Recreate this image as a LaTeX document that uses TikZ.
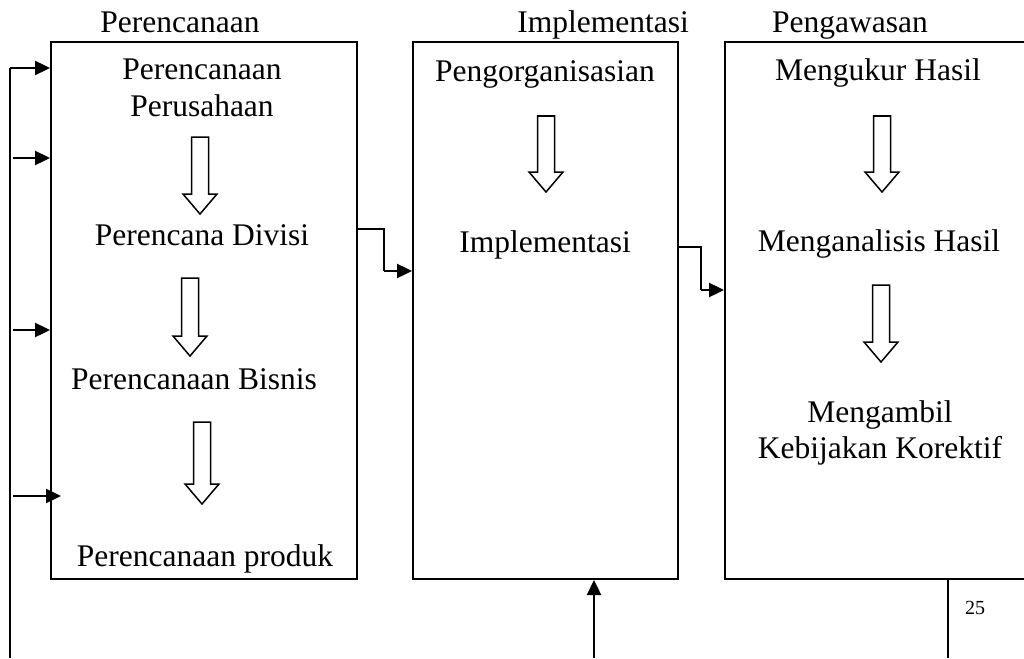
\documentclass[tikz,border=0pt]{standalone}
\usepackage{fontspec}
\setmainfont{Liberation Serif}
\usetikzlibrary{arrows.meta}
\tikzset{
  box/.style={draw, line width=2pt, rectangle, inner sep=0pt},
  lbl/.style={anchor=base, inner sep=0pt, font=\fontsize{31.5}{36}\selectfont},
  small/.style={anchor=base, inner sep=0pt, font=\fontsize{20}{23}\selectfont},
  conn/.style={line width=2.4pt, -{Triangle[length=15pt,width=14pt]}},
  plain/.style={line width=1.8pt},
  blkline/.style={draw, line width=1.5pt, line join=miter, fill=white}
}
\newcommand\blkarr[3]{%
  \draw[blkline] (#1-8.5,#2) -- (#1+8.5,#2) -- (#1+8.5,#2-#3+20) -- (#1+17,#2-#3+20)
    -- (#1,#2-#3) -- (#1-17,#2-#3+20) -- (#1-8.5,#2-#3+20) -- cycle;}
\begin{document}
\begin{tikzpicture}[x=1pt,y=1pt]
\useasboundingbox (0,0) rectangle (1024,-658);
\clip (0,0) rectangle (1024,-658);
% boxes
\node[box, minimum width=306pt, minimum height=537pt, anchor=north west] (b1) at (50,-41) {};
\node[box, minimum width=265pt, minimum height=537pt, anchor=north west] (b2) at (412,-41) {};
\node[box, minimum width=320pt, minimum height=537pt, anchor=north west] (b3) at (724,-41) {};
% titles
\node[lbl] (t1) at (180,-33) {Perencanaan};
\node[lbl] (t2) at (603,-33) {Implementasi};
\node[lbl] (t3) at (850,-33) {Pengawasan};
% box 1 contents
\node[lbl] (a1) at (202,-80) {Perencanaan};
\node[lbl] (a1b) at (202,-117) {Perusahaan};
\blkarr{200}{-137}{77}
\node[lbl] (a2) at (202,-245) {Perencana Divisi};
\blkarr{190}{-278}{78}
\node[lbl] (a3) at (194,-389) {Perencanaan Bisnis};
\blkarr{202}{-422}{82}
\node[lbl] (a4) at (205,-566) {Perencanaan produk};
% box 2 contents
\node[lbl] (m1) at (545,-82) {Pengorganisasian};
\blkarr{546}{-116}{76}
\node[lbl] (m2) at (545,-252) {Implementasi};
% box 3 contents
\node[lbl] (k1) at (878,-81) {Mengukur Hasil};
\blkarr{882}{-116}{76}
\node[lbl] (k2) at (879,-251) {Menganalisis Hasil};
\blkarr{881}{-285}{77}
\node[lbl] (k3) at (880,-422) {Mengambil};
\node[lbl] (k3b) at (880,-458) {Kebijakan Korektif};
% left feedback line
\coordinate (L0) at (10,-68);
\coordinate (Lb) at (10,-658);
\draw[plain] (Lb) -- (L0);
\draw[conn] (L0) -- (b1.west |- L0);
\coordinate (L2) at (13,-158);
\coordinate (L3) at (13,-330);
\coordinate (L4) at (13,-496);
\coordinate (E4) at (61,-496);
\draw[conn] (L2) -- (b1.west |- L2);
\draw[conn] (L3) -- (b1.west |- L3);
\draw[conn] (L4) -- (E4);
% connectors between boxes
\coordinate (c1) at (384,-229);
\coordinate (c2) at (384,-271);
\draw[line width=2.4pt] (b1.east |- c1) -- (c1) -- (c2);
\draw[conn] (c2) -- (b2.west |- c2);
\coordinate (d1) at (701,-247);
\coordinate (d2) at (701,-290);
\draw[line width=2.4pt] (b2.east |- d1) -- (d1) -- (d2);
\draw[conn] (d2) -- (b3.west |- d2);
% bottom arrow into box 2
\coordinate (u0) at (594,-658);
\draw[conn] (u0) -- (b2.south -| u0);
% page number
\coordinate (v0) at (948,-658);
\draw[plain] (v0) -- (b3.south -| v0);
\node[small] (pg) at (975,-614) {25};
\end{tikzpicture}
\end{document}
